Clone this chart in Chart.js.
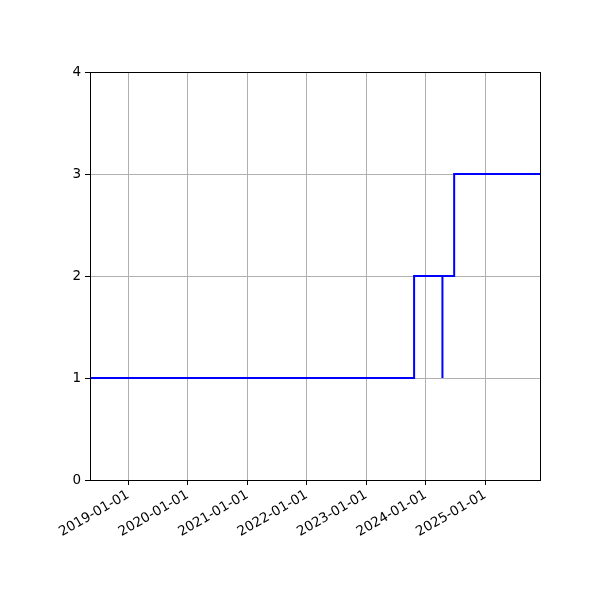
<!DOCTYPE html>
<html>
<head>
<meta charset="utf-8">
<script src="https://cdn.jsdelivr.net/npm/chart.js@4"></script>
<style>
html,body{margin:0;padding:0;background:#fff;}
#wrap{width:600px;height:600px;}
</style>
</head>
<body>
<div id="wrap"><canvas id="c" width="600" height="600"></canvas></div>
<script>
const stepDates = ['2018-05-11','2023-10-22','2024-04-13','2024-04-13','2024-06-24','2025-12-03'];
const stepValues = [1, 2, 1, 2, 3, 3];
const xTickLabels = ['2019-01-01','2020-01-01','2021-01-01','2022-01-01','2023-01-01','2024-01-01','2025-01-01'];
const yTicks = [0, 1, 2, 3, 4];
const xRange = ['2018-05-11', '2025-12-03'];

const toMs = s => Date.parse(s + 'T00:00:00Z');
const pad2 = n => String(n).padStart(2, '0');
const fmt = v => { const d = new Date(v); return d.getUTCFullYear() + '-' + pad2(d.getUTCMonth()+1) + '-' + pad2(d.getUTCDate()); };

const points = stepDates.map((d, i) => ({x: toMs(d), y: stepValues[i]}));
const xTickValues = xTickLabels.map(toMs);

const frame = {
  id: 'frame',
  afterDraw(chart) {
    const a = chart.chartArea, ctx = chart.ctx;
    ctx.save();
    ctx.strokeStyle = '#000';
    ctx.lineWidth = 1;
    ctx.strokeRect(Math.round(a.left) + 0.5, Math.round(a.top) + 0.5, Math.round(a.right - a.left), Math.round(a.bottom - a.top));
    ctx.restore();
  }
};

Chart.defaults.font.family = 'DejaVu Sans';
Chart.defaults.font.size = 13.5;
Chart.defaults.color = '#000';

new Chart(document.getElementById('c'), {
  type: 'line',
  data: {
    datasets: [{
      data: points,
      borderColor: '#0000ff',
      borderWidth: 2,
      pointRadius: 0,
      stepped: 'before',
      fill: false,
      tension: 0
    }]
  },
  options: {
    responsive: false,
    animation: false,
    devicePixelRatio: 1,
    layout: {padding: {left: 0, right: 60, top: 72, bottom: 0}},
    plugins: {legend: {display: false}, tooltip: {enabled: false}},
    scales: {
      x: {
        type: 'linear',
        min: toMs(xRange[0]),
        max: toMs(xRange[1]),
        afterBuildTicks: s => { s.ticks = xTickValues.map(v => ({value: v})); },
        afterFit: s => { s.height = 120; },
        grid: {color: '#b0b0b0', lineWidth: 1, drawTicks: true, tickLength: 5, tickColor: '#000', tickWidth: 1},
        border: {display: false},
        ticks: {
          callback: v => fmt(v),
          autoSkip: false,
          minRotation: 30,
          maxRotation: 30,
          padding: 2,
          color: '#000'
        }
      },
      y: {
        type: 'linear',
        min: 0,
        max: 4,
        afterBuildTicks: s => { s.ticks = yTicks.map(v => ({value: v})); },
        afterFit: s => { s.width = 90; },
        grid: {color: '#b0b0b0', lineWidth: 1, drawTicks: true, tickLength: 5, tickColor: '#000', tickWidth: 1},
        border: {display: false},
        ticks: {callback: v => String(v), padding: 4, color: '#000'}
      }
    }
  },
  plugins: [frame]
});
</script>
</body>
</html>
